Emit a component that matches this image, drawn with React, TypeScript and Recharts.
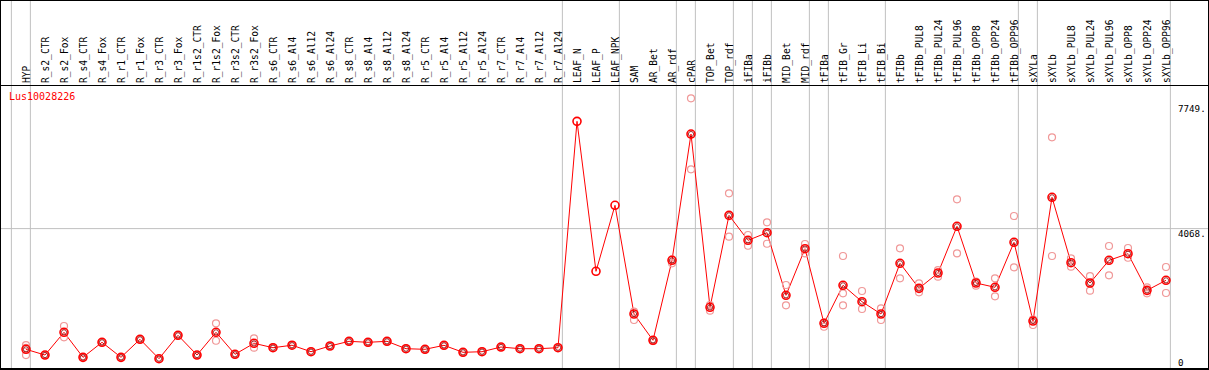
import { ComposedChart, Line, XAxis, YAxis, ReferenceLine } from "recharts";

const GENE = "Lus10028226";

const CATEGORIES = [
  "HYP", "R_s2_CTR", "R_s2_Fox", "R_s4_CTR", "R_s4_Fox", "R_r1_CTR", "R_r1_Fox",
  "R_r3_CTR", "R_r3_Fox", "R_r1s2_CTR", "R_r1s2_Fox", "R_r3s2_CTR", "R_r3s2_Fox",
  "R_s6_CTR", "R_s6_Al4", "R_s6_Al12", "R_s6_Al24", "R_s8_CTR", "R_s8_Al4",
  "R_s8_Al12", "R_s8_Al24", "R_r5_CTR", "R_r5_Al4", "R_r5_Al12", "R_r5_Al24",
  "R_r7_CTR", "R_r7_Al4", "R_r7_Al12", "R_r7_Al24", "LEAF_N", "LEAF_P", "LEAF_NPK",
  "SAM", "AR_Bet", "AR_rdf", "cPAR", "TOP_Bet", "TOP_rdf", "iFIBa", "iFIBb",
  "MID_Bet", "MID_rdf", "tFIBa", "tFIB_Gr", "tFIB_Li", "tFIB_Bi", "tFIBb",
  "tFIBb_PUL8", "tFIBb_PUL24", "tFIBb_PUL96", "tFIBb_OPP8", "tFIBb_OPP24",
  "tFIBb_OPP96", "sXYLa", "sXYLb", "sXYLb_PUL8", "sXYLb_PUL24", "sXYLb_PUL96",
  "sXYLb_OPP8", "sXYLb_OPP24", "sXYLb_OPP96",
];

const MEAN = [
  387, 213, 906, 143, 601, 143, 692, 101, 814, 213,
  906, 235, 570, 436, 512, 314, 488, 631, 601, 631,
  406, 387, 509, 296, 314, 457, 406, 406, 436, 7339,
  2766, 4778, 1464, 662, 3101, 6952, 1668, 4473, 3711, 3943,
  2034, 3455, 1180, 2339, 1839, 1464, 3010, 2247, 2714, 4138,
  2409, 2278, 3650, 1250, 5022, 3028, 2409, 3101, 3302, 2186,
  2491,
];

const REP_A = [
  518, 213, 1098, 143, 601, 143, 692, 101, 814, 213,
  1180, 235, 723, 436, 512, 314, 488, 631, 601, 631,
  406, 387, 509, 296, 314, 457, 406, 406, 436, null,
  null, null, 1534, 671, 3132, 8041, 1738, 5144, 3873, 4260,
  2348, 3598, 1211, 3232, 2165, 1637, 3467, 2400, 2805, 4961,
  2449, 2552, 4452, 1302, 6852, 3162, 2622, 3537, 3476, 2278,
  2897,
];

const REP_B = [
  213, 213, 753, 143, 601, 143, 692, 101, 814, 213,
  649, 235, 436, 436, 512, 314, 488, 631, 601, 631,
  406, 387, 509, 296, 314, 457, 406, 406, 436, null,
  null, null, 1281, 640, 3010, 5876, 1564, 3821, 3546, 3607,
  1729, 3315, 1076, 2095, 1616, 1281, 2552, 2125, 2601, 3315,
  2327, 2003, 2888, 1128, 3232, 2906, 2174, 2644, 3180, 2095,
  2104,
];

// third replicate, only where it shows apart from the others
const REP_C: Record<number, number> = { 0: 430, 43: 1729 };

const Y_TICKS = [0, 4068, 7749];
const Y_LABELS = ["0", "4068.", "7749."];
const GRID_VALUE = 4068;

// group boundaries: a grey rule just after these category indices
const SEPARATORS = [-1, 0, 28, 31, 34, 35, 37, 38, 39, 41, 42, 45, 52, 53, 60];

const data = CATEGORIES.map((name, i) => ({
  i,
  name,
  mean: MEAN[i],
  a: REP_A[i],
  b: REP_B[i],
  c: REP_C[i] ?? null,
}));

const MONO = "DejaVu Sans Mono";

function CategoryTick(props: any) {
  const { x, payload } = props;
  const bx = x + 4;
  return (
    <text
      x={bx}
      y={83}
      transform={`rotate(-90 ${bx} 83)`}
      fontFamily={MONO}
      fontSize={9.6}
      fill="#000"
      textAnchor="start"
    >
      {CATEGORIES[payload.value]}
    </text>
  );
}

function ValueTick(props: any) {
  const { y, payload } = props;
  const idx = Y_TICKS.indexOf(payload.value);
  const dy = payload.value === GRID_VALUE ? 8 : 4;
  return (
    <text x={1178} y={y + dy} fontFamily={MONO} fontSize={9.2} fill="#000">
      {Y_LABELS[idx]}
    </text>
  );
}

function MeanDot(props: any) {
  const { cx, cy, payload } = props;
  if (cx == null || cy == null) return null;
  const hasReps = payload.a != null;
  return (
    <g>
      <circle cx={cx} cy={cy} r={4} fill="none" stroke="#ff0000" strokeWidth={1.6} />
      {hasReps && (
        <circle cx={cx} cy={cy} r={2.6} fill="none" stroke="#8a0000" strokeWidth={0.8} />
      )}
    </g>
  );
}

const repDot = { r: 3.5, stroke: "#f09898", strokeWidth: 1.2, fill: "none" };

export default function App() {
  return (
    <div
      style={{
        position: "absolute",
        left: 0,
        top: 0,
        width: 1209,
        height: 370,
        background: "#fff",
        overflow: "hidden",
      }}
    >
      <ComposedChart
        width={1209}
        height={370}
        data={data}
        margin={{ top: 0, right: 0, bottom: 1, left: 0 }}
      >
        <XAxis
          dataKey="i"
          type="number"
          orientation="top"
          mirror
          domain={[-26 / 19, 1183 / 19]}
          allowDataOverflow
          ticks={CATEGORIES.map((_, i) => i)}
          interval={0}
          axisLine={false}
          tickLine={false}
          tick={<CategoryTick />}
        />
        <YAxis
          type="number"
          orientation="right"
          mirror
          domain={[-213, 11039]}
          allowDataOverflow
          ticks={Y_TICKS}
          interval={0}
          axisLine={false}
          tickLine={false}
          tick={<ValueTick />}
        />
        <ReferenceLine y={GRID_VALUE} stroke="#c0c0c0" strokeWidth={1} />
        {SEPARATORS.map((s) => (
          <ReferenceLine key={s} x={s + 0.23} stroke="#c0c0c0" strokeWidth={1} />
        ))}
        <Line dataKey="a" stroke="none" dot={repDot} activeDot={false} isAnimationActive={false} />
        <Line dataKey="b" stroke="none" dot={repDot} activeDot={false} isAnimationActive={false} />
        <Line dataKey="c" stroke="none" dot={repDot} activeDot={false} isAnimationActive={false} />
        <Line
          dataKey="mean"
          type="linear"
          stroke="#ff0000"
          strokeWidth={1}
          dot={<MeanDot />}
          activeDot={false}
          isAnimationActive={false}
        />
      </ComposedChart>
      <div
        style={{
          position: "absolute",
          left: 0,
          top: 85,
          width: 1209,
          height: 1,
          background: "#000",
        }}
      />
      <div
        style={{
          position: "absolute",
          left: 9,
          top: 90,
          fontFamily: MONO,
          fontSize: 10,
          lineHeight: "13px",
          color: "#ff0000",
        }}
      >
        {GENE}
      </div>
      <div
        style={{
          position: "absolute",
          left: 0,
          top: 0,
          width: 1209,
          height: 370,
          boxSizing: "border-box",
          borderTop: "1px solid #000",
          borderLeft: "1px solid #000",
          borderRight: "1px solid #000",
          borderBottom: "2px solid #000",
          pointerEvents: "none",
        }}
      />
    </div>
  );
}
